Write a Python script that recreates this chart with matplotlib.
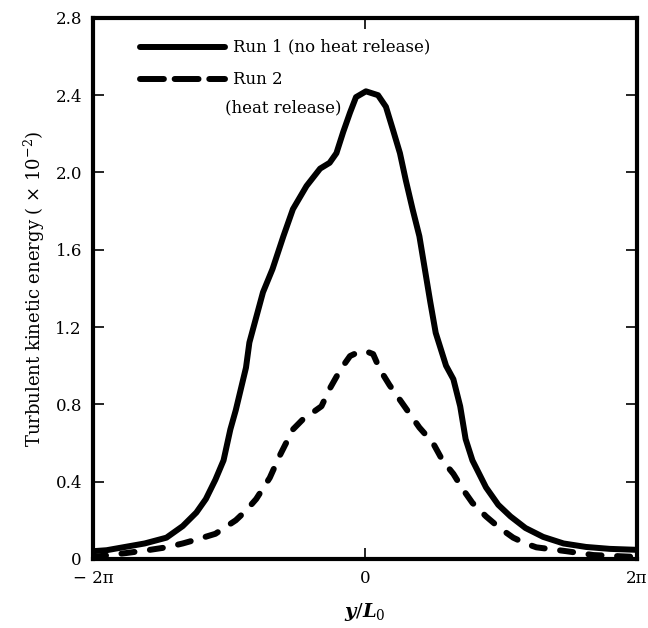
import numpy as np
import matplotlib
matplotlib.use('Agg')
import matplotlib.pyplot as plt

plt.rcParams['font.family'] = ['DejaVu Serif']
plt.rcParams['mathtext.fontset'] = 'custom'
plt.rcParams['mathtext.rm'] = 'DejaVu Serif'
plt.rcParams['mathtext.it'] = 'DejaVu Serif:italic:bold'

# y/L0 in units of pi, turbulent kinetic energy (x 10^-2)
run1_x = [-2.0, -1.9, -1.78, -1.62, -1.46, -1.34, -1.24, -1.17, -1.10, -1.04,
          -0.99, -0.95, -0.875, -0.85, -0.80, -0.75, -0.68, -0.60, -0.53, -0.43,
          -0.33, -0.26, -0.21, -0.16, -0.11, -0.066, 0.007, 0.096, 0.154, 0.206,
          0.257, 0.30, 0.35, 0.40, 0.44, 0.48, 0.52, 0.596, 0.65, 0.70,
          0.74, 0.79, 0.89, 0.98, 1.07, 1.18, 1.31, 1.46, 1.625, 1.8, 2.0]
run1_tke = [0.04, 0.045, 0.06, 0.08, 0.11, 0.17, 0.24, 0.31, 0.41, 0.51,
            0.67, 0.77, 0.99, 1.12, 1.25, 1.38, 1.50, 1.67, 1.81, 1.93,
            2.02, 2.05, 2.10, 2.21, 2.31, 2.39, 2.42, 2.40, 2.34, 2.22,
            2.10, 1.96, 1.81, 1.67, 1.50, 1.33, 1.17, 1.00, 0.93, 0.79,
            0.62, 0.51, 0.37, 0.28, 0.22, 0.16, 0.114, 0.08, 0.062, 0.052, 0.047]

run2_x = [-2.0, -1.76, -1.6, -1.46, -1.34, -1.24, -1.10, -0.95, -0.875, -0.80,
          -0.70, -0.63, -0.53, -0.46, -0.40, -0.32, -0.26, -0.18, -0.11, -0.05,
          0.007, 0.06, 0.11, 0.18, 0.26, 0.33, 0.40, 0.50, 0.57, 0.65,
          0.72, 0.79, 0.89, 0.99, 1.09, 1.18, 1.26, 1.37, 1.48, 1.68, 2.0]
run2_tke = [0.01, 0.03, 0.045, 0.06, 0.08, 0.10, 0.13, 0.20, 0.25, 0.31,
            0.42, 0.53, 0.67, 0.72, 0.75, 0.79, 0.88, 0.98, 1.05, 1.07,
            1.075, 1.06, 0.98, 0.90, 0.82, 0.75, 0.68, 0.60, 0.51, 0.44,
            0.36, 0.29, 0.22, 0.16, 0.11, 0.08, 0.06, 0.05, 0.04, 0.02, 0.01]

yticks = [0, 0.4, 0.8, 1.2, 1.6, 2.0, 2.4, 2.8]
ytick_labels = ['0', '0.4', '0.8', '1.2', '1.6', '2.0', '2.4', '2.8']
xtick_labels = ['\u2212 2\u03c0', '0', '2\u03c0']

fig = plt.figure(figsize=(6.48, 6.28), dpi=100)
ax = fig.add_axes([0.1435, 0.110, 0.8395, 0.8615])

lw = 4.3
ax.plot(np.array(run1_x) * np.pi, run1_tke, color='black', lw=lw,
        solid_joinstyle='round', solid_capstyle='round')
ax.plot(np.array(run2_x) * np.pi, run2_tke, color='black', lw=lw,
        linestyle=(0, (2.2, 2.6)), dash_capstyle='round', dash_joinstyle='round')

ax.set_xlim(-2 * np.pi, 2 * np.pi)
ax.set_ylim(0, 2.8)
ax.set_xticks([-2 * np.pi, 0, 2 * np.pi])
ax.set_xticklabels(xtick_labels, fontsize=12)
ax.set_yticks(yticks)
ax.set_yticklabels(ytick_labels, fontsize=12)
ax.tick_params(direction='in', length=8, width=1.2, top=True, right=True, pad=8)

for s in ax.spines.values():
    s.set_linewidth(3)

ax.set_xlabel(r'$y/L_0$', fontsize=14, labelpad=10)
ax.set_ylabel('Turbulent kinetic energy ( \u00d7 10$^{-2}$)', fontsize=13, labelpad=6)

# hand-drawn legend
ax.plot([0.087, 0.242], [0.946, 0.946], transform=ax.transAxes, color='black',
        lw=lw, solid_capstyle='round')
ax.plot([0.087, 0.242], [0.887, 0.887], transform=ax.transAxes, color='black',
        lw=lw, linestyle=(0, (4.0, 1.8)), dash_capstyle='round')
ax.text(0.258, 0.946, 'Run 1 (no heat release)', transform=ax.transAxes,
        fontsize=12, va='center', ha='left')
ax.text(0.258, 0.887, 'Run 2', transform=ax.transAxes,
        fontsize=12, va='center', ha='left')
ax.text(0.242, 0.834, '(heat release)', transform=ax.transAxes,
        fontsize=12, va='center', ha='left')

fig.savefig('out.png', dpi=100)
